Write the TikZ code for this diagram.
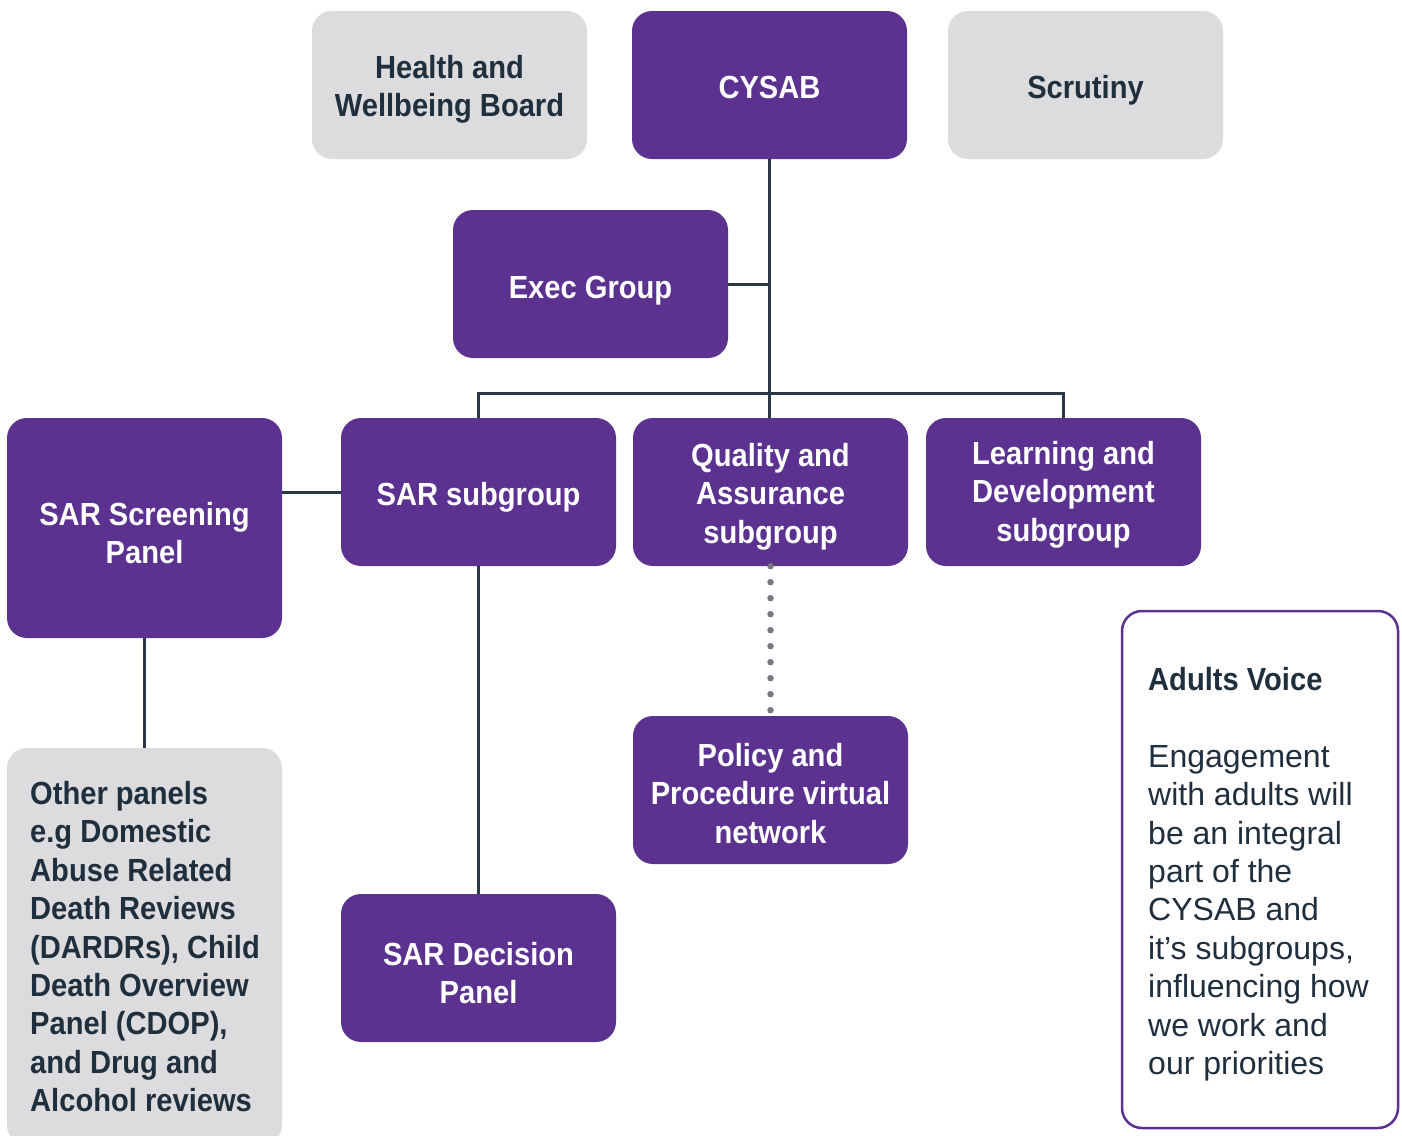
\documentclass[tikz,border=0pt]{standalone}
\usepackage{fontspec}
\setmainfont{Liberation Sans}[BoldFeatures={FakeStretch=0.91}]
\definecolor{cpurple}{HTML}{5C3290}
\definecolor{cgray}{HTML}{DCDCDF}
\definecolor{cdark}{HTML}{1F2F3D}
\definecolor{cline}{HTML}{2A3845}
\definecolor{cdot}{HTML}{7A7A85}
\newcommand{\boxlines}[2]{\raisebox{-#1pt}[\height][\depth]{\begin{tabular}{@{}c@{}}#2\end{tabular}}}
\begin{document}
\begin{tikzpicture}[x=1pt,y=-1pt,
  box/.style={rounded corners=20pt, minimum width=275pt, minimum height=148pt, inner sep=0pt, font=\fontsize{32}{38.4}\selectfont\bfseries},
  pbox/.style={box, fill=cpurple, text=white},
  gbox/.style={box, fill=cgray, text=cdark},
  link/.style={draw=cline, line width=3pt},
  dots/.style={draw=cdot, line width=6.5pt, line cap=round, dash pattern=on 0pt off 16pt},
  txt/.style={inner sep=0pt, anchor=north west, align=left, text=cdark, font=\fontsize{32}{38.4}\selectfont}
]
\useasboundingbox (0,0) rectangle (1402,1135);
\fill[white] (0,0) rectangle (1402,1135);

\node[gbox] (hwb) at (449.5,85) {\boxlines{5}{Health and\\Wellbeing Board}};
\node[pbox] (cysab) at (769.5,85) {\boxlines{6}{CYSAB}};
\node[gbox] (scrutiny) at (1085.5,85) {\boxlines{6}{Scrutiny}};
\node[pbox] (exec) at (590.5,284) {\boxlines{7}{Exec Group}};
\node[pbox, minimum height=220pt] (screen) at (144.5,528) {\boxlines{9}{SAR Screening\\Panel}};
\node[pbox] (sarsub) at (478.5,492) {\boxlines{6}{SAR subgroup}};
\node[pbox] (qa) at (770.5,492) {\boxlines{5}{Quality and\\Assurance\\subgroup}};
\node[pbox] (ld) at (1063.5,492) {\boxlines{3}{Learning and\\Development\\subgroup}};
\node[pbox] (policy) at (770.5,790) {\boxlines{7}{Policy and\\Procedure virtual\\network}};
\node[pbox] (sardec) at (478.5,968) {\boxlines{9}{SAR Decision\\Panel}};
\node[gbox, minimum height=397pt] (other) at (144.5,946.5) {};
\node[txt, font=\fontsize{32}{38.4}\selectfont\bfseries] (othertxt) at (30,781) {Other panels\\e.g Domestic\\Abuse Related\\Death Reviews\\(DARDRs), Child\\Death Overview\\Panel (CDOP),\\and Drug and\\Alcohol reviews};
\node[rounded corners=20pt, minimum width=276pt, minimum height=517pt, draw=cpurple, line width=2.5pt, fill=white] (adults) at (1260,869.5) {};
\node[txt] (adultstxt) at (1148,667) {\textbf{Adults Voice}\\[38.4pt]Engagement\\with adults will\\be an integral\\part of the\\CYSAB and\\it’s subgroups,\\influencing how\\we work and\\our priorities};

\draw[link] (cysab.south) -- (cysab.south |- qa.north);
\draw[link] (exec.east) -- (exec.east -| cysab.south);
\draw[link] (sarsub.north) -- ++(0,-24) -| (ld.north);
\draw[link] (sarsub.west -| screen.east) -- (sarsub.west);
\draw[link] (screen.south) -- (other.north);
\draw[link] (sarsub.south) -- (sardec.north);
\draw[dots] (qa.south) -- (policy.north);
\end{tikzpicture}
\end{document}
